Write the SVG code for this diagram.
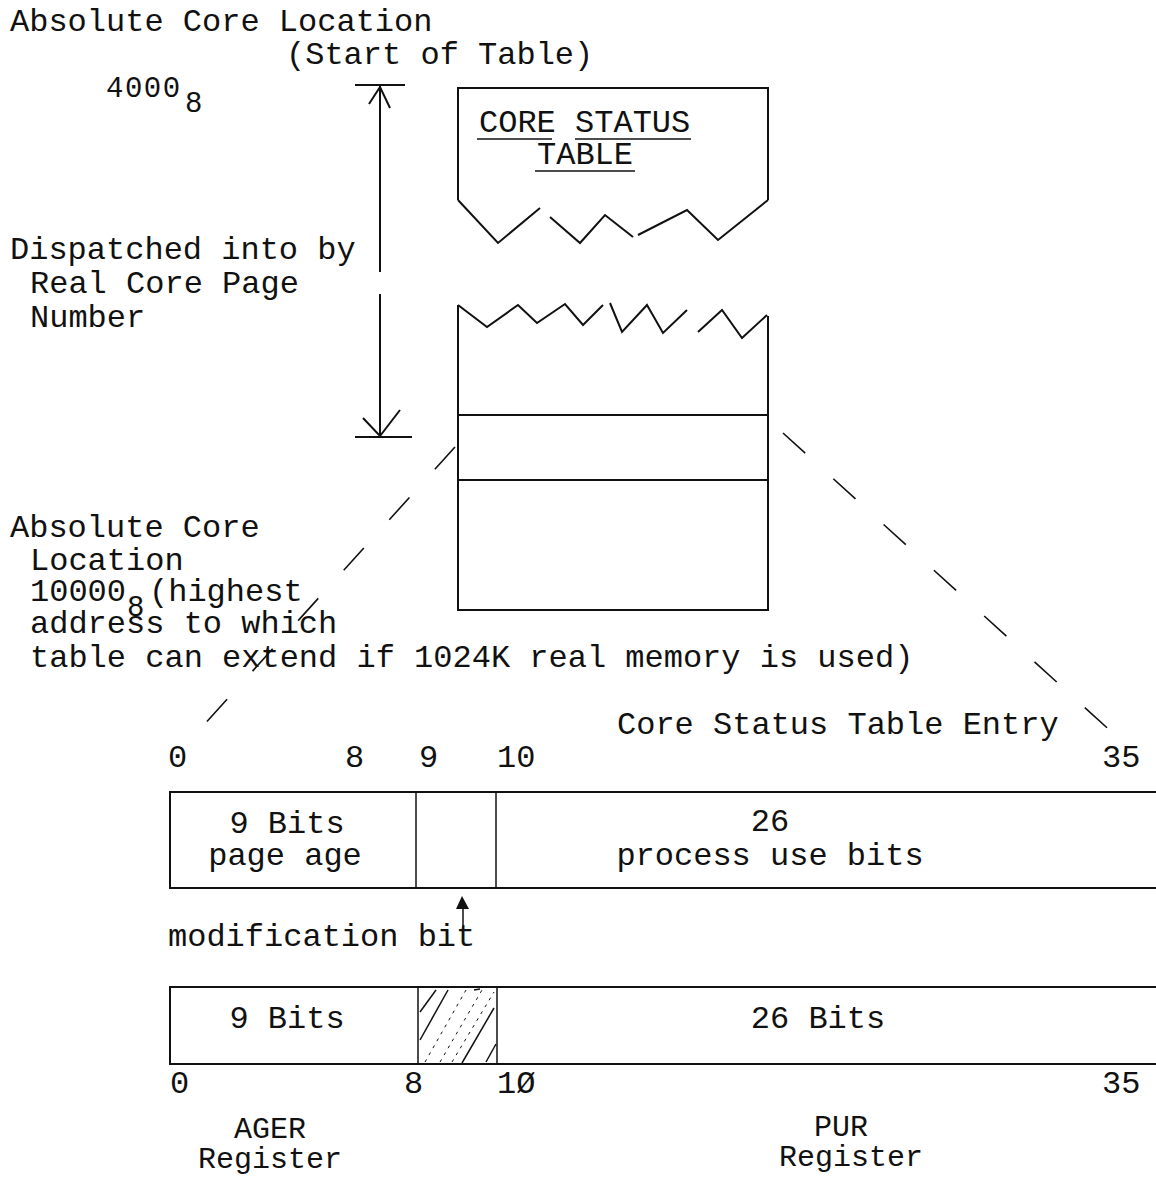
<svg xmlns="http://www.w3.org/2000/svg" width="1156" height="1178" viewBox="0 0 1156 1178">
<style>
text{font-family:"Liberation Mono","DejaVu Sans Mono",monospace;font-size:32px;fill:#111}
.c{text-anchor:middle}
.s{font-size:29px;letter-spacing:1.5px}
.sub{font-size:29px}
.r{font-size:30px}
.ln{stroke:#111;stroke-width:2;fill:none}
.th{stroke:#111;stroke-width:1.5;fill:none}
.ds{stroke:#111;stroke-width:1.6;fill:none;stroke-dasharray:30 38}
</style>
<rect width="1156" height="1178" fill="#fff"/>

<g id="labels-top">
<text x="10" y="31">Absolute Core Location</text>
<text x="286" y="64">(Start of Table)</text>
<text x="106" y="97" class="s">4000</text>
<text x="185" y="112" class="sub">8</text>
<text x="10" y="259">Dispatched into by</text>
<text x="30" y="293">Real Core Page</text>
<text x="30" y="327">Number</text>
<text x="10" y="537">Absolute Core</text>
<text x="30" y="570">Location</text>
<text x="30" y="601">10000</text>
<text x="127" y="616" class="sub">8</text>
<text x="149" y="601">(highest</text>
<text x="30" y="633">address to which</text>
<text x="30" y="667">table can extend if 1024K real memory is used)</text>
</g>

<g id="table-top">
<path class="ln" d="M458,200 L458,88 L768,88 L768,200"/>
<path class="ln" d="M458,200 L498,243 L540,208"/>
<path class="ln" d="M550,217 L580,243 L605,215 L633,237"/>
<path class="ln" d="M638,235 L687,210 L718,240 L768,200"/>
<text x="479" y="132">CORE STATUS</text>
<line class="th" x1="477" y1="139" x2="552" y2="139"/>
<line class="th" x1="575" y1="139" x2="691" y2="139"/>
<text x="537" y="164">TABLE</text>
<line class="th" x1="535" y1="171" x2="635" y2="171"/>
</g>

<g id="table-bottom">
<path class="ln" d="M458,305 L487,327 L518,305 L537,323 L565,304 L583,325 L603,305"/>
<path class="ln" d="M610,303 L622,332 L647,305 L663,333 L687,310"/>
<path class="ln" d="M698,332 L722,310 L742,338 L767,315"/>
<path class="ln" d="M458,305 L458,610 L768,610 L768,316"/>
<line class="ln" x1="458" y1="415" x2="768" y2="415"/>
<line class="ln" x1="458" y1="480" x2="768" y2="480"/>
</g>

<g id="entry">
<text x="617" y="734">Core Status Table Entry</text>
<text x="168" y="767">0</text>
<text x="345" y="767">8</text>
<text x="419" y="767">9</text>
<text x="497" y="767">10</text>
<text x="1102" y="767">35</text>
<path class="ln" d="M1160,792 L170,792 L170,888 L1160,888"/>
<line class="th" x1="416" y1="792" x2="416" y2="888"/>
<line class="th" x1="496" y1="792" x2="496" y2="888"/>
<text x="287" y="833" class="c">9 Bits</text>
<text x="285" y="865" class="c">page age</text>
<text x="770" y="831" class="c">26</text>
<text x="770" y="865" class="c">process use bits</text>
<text x="168" y="946">modification bit</text>
</g>

<g id="registers">
<path class="ln" d="M1160,987 L170,987 L170,1064 L1160,1064"/>
<line class="th" x1="418" y1="987" x2="418" y2="1064"/>
<line class="th" x1="497" y1="987" x2="497" y2="1064"/>
<g class="th">
<line x1="420" y1="1012" x2="436" y2="990"/>
<line x1="420" y1="1040" x2="448" y2="990"/>
<line x1="474" y1="990" x2="480" y2="989"/>
<line x1="462" y1="1063" x2="494" y2="1008"/>
<line x1="486" y1="1062" x2="496" y2="1044"/>
</g>
<g stroke="#111" stroke-width="1" stroke-dasharray="3 5" fill="none">
<line x1="425" y1="1062" x2="466" y2="990"/>
<line x1="440" y1="1062" x2="482" y2="990"/>
<line x1="452" y1="1062" x2="494" y2="992"/>
</g>
<text x="287" y="1028" class="c">9 Bits</text>
<text x="818" y="1028" class="c">26 Bits</text>
<text x="170" y="1093">0</text>
<text x="404" y="1093">8</text>
<text x="497" y="1093">1Ø</text>
<text x="1102" y="1093">35</text>
<text x="270" y="1138" class="c r">AGER</text>
<text x="270" y="1168" class="c r">Register</text>
<text x="841" y="1136" class="c r">PUR</text>
<text x="851" y="1166" class="c r">Register</text>
</g>

<g id="connectors">
<line class="ln" x1="355" y1="85" x2="405" y2="85"/>
<line class="ln" x1="380" y1="86" x2="380" y2="272"/>
<line class="ln" x1="380" y1="294" x2="380" y2="436"/>
<path class="ln" d="M369,104 L380,87 L390,108"/>
<line class="ln" x1="355" y1="437" x2="412" y2="437"/>
<path class="ln" d="M363,418 L380,436 L400,410"/>
<line class="ds" x1="455" y1="447" x2="193" y2="737"/>
<line class="ds" x1="783" y1="433" x2="1115" y2="735"/>
<line class="th" x1="463" y1="906" x2="463" y2="928"/>
<path d="M462,896 L456,909 L469,909 Z" fill="#111"/>
</g>
</svg>
